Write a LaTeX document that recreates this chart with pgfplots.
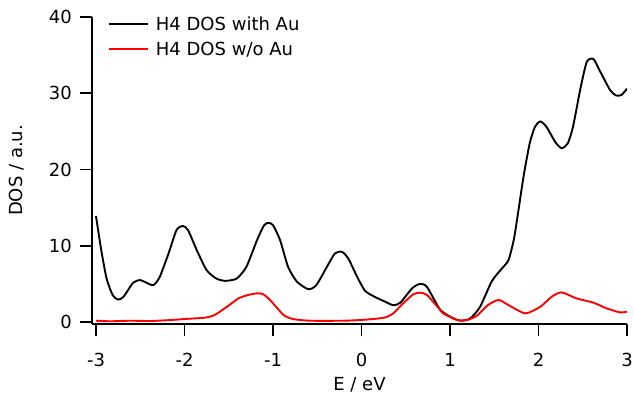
\documentclass[border=0pt]{standalone}
\usepackage{pgfplots}
\pgfplotsset{compat=1.18}
\usepackage{fontspec}
\setmainfont{DejaVu Sans}
\newcommand\lab{\fontsize{18}{21}\selectfont}

% H4 density of states, with and without the Au contact
\pgfplotstableread{
E      dos
-3.00  13.9
-2.94  9.4
-2.88  5.7
-2.81  3.5
-2.75  2.95
-2.69  3.3
-2.58  5.15
-2.50  5.5
-2.43  5.15
-2.35  4.85
-2.28  5.9
-2.18  9.0
-2.09  12.05
-2.02  12.6
-1.96  12.05
-1.86  9.4
-1.75  6.8
-1.64  5.7
-1.54  5.4
-1.41  5.7
-1.30  7.25
-1.18  10.75
-1.10  12.7
-1.05  13.0
-1.00  12.7
-0.92  10.75
-0.83  7.25
-0.73  5.3
-0.60  4.3
-0.51  4.85
-0.39  7.25
-0.30  9.0
-0.22  9.2
-0.15  8.35
-0.05  5.95
 0.04  4.1
 0.15  3.3
 0.27  2.65
 0.36  2.2
 0.44  2.55
 0.57  4.4
 0.66  5.0
 0.74  4.6
 0.89  1.6
 1.04  0.48
 1.13  0.17
 1.23  0.48
 1.34  2.0
 1.47  5.3
 1.57  6.8
 1.66  8.1
 1.72  10.75
 1.76  13.6
 1.83  19.0
 1.90  23.4
 1.96  25.6
 2.02  26.3
 2.09  25.6
 2.19  23.6
 2.26  22.8
 2.33  23.4
 2.39  25.6
 2.47  30.4
 2.545 34.1
 2.62  34.5
 2.69  33.0
 2.81  30.4
 2.88  29.7
 2.94  29.8
 3.00  30.6
}\withAu

\pgfplotstableread{
E      dos
-3.00  0.17
-2.84  0.10
-2.61  0.17
-2.39  0.13
-2.16  0.26
-1.94  0.44
-1.77  0.57
-1.66  0.92
-1.52  2.0
-1.39  3.1
-1.28  3.55
-1.18  3.76
-1.11  3.65
-1.03  2.85
-0.88  0.92
-0.77  0.39
-0.58  0.17
-0.20  0.17
-0.02  0.26
 0.13  0.39
 0.27  0.61
 0.36  1.14
 0.47  2.45
 0.585 3.63
 0.66  3.85
 0.74  3.54
 0.89  1.57
 0.92  1.14
 1.08  0.26
 1.19  0.26
 1.30  0.79
 1.43  2.23
 1.55  2.89
 1.66  2.23
 1.85  1.14
 2.02  2.0
 2.15  3.32
 2.26  3.89
 2.43  3.1
 2.62  2.54
 2.77  1.79
 2.92  1.27
 3.00  1.35
}\withoutAu

\begin{document}
\begin{tikzpicture}
\begin{axis}[
  scale only axis,
  width=535pt, height=307pt,
  xmin=-3.045, xmax=3,
  ymin=-0.26, ymax=40,
  axis x line*=bottom,
  axis y line*=left,
  axis line style={line width=1.6pt},
  xtick={-3,-2,-1,0,1,2,3},
  xticklabels={-3,-2,-1,0,1,2,3},
  ytick={0,10,20,30,40},
  yticklabels={0,10,20,30,40},
  tick align=outside,
  major tick length=12pt,
  tick style={line width=1.6pt, black},
  minor tick num=0,
  ticklabel style={font=\lab, inner sep=0pt},
  xticklabel style={yshift=-17pt},
  yticklabel style={xshift=-8pt},
  xlabel={E / eV},
  ylabel={DOS / a.u.},
  label style={font=\lab},
  xlabel style={at={(axis description cs:0.5,0)}, anchor=base, yshift=-66pt},
  ylabel style={at={(axis description cs:0,0.5)}, anchor=center, yshift=75pt},
  legend style={draw=none, fill=none, font=\lab, at={(0.024,1.015)}, anchor=north west,
    row sep=6pt, column sep=5pt, legend cell align=left},
  legend image code/.code={\draw[#1] (0pt,0pt) -- (39pt,0pt);},
]
\addplot[black, line width=1.9pt, smooth, tension=0.4] table[x=E, y=dos] {\withAu};
\addlegendentry{H4 DOS with Au}
\addplot[red, line width=1.9pt, smooth, tension=0.4] table[x=E, y=dos] {\withoutAu};
\addlegendentry{H4 DOS w/o Au}
\end{axis}
% white margins around the plot area
\path (current axis.south west) ++(-92pt,-69pt);
\path (current axis.north east) ++(7pt,17pt);
\end{tikzpicture}
\end{document}
